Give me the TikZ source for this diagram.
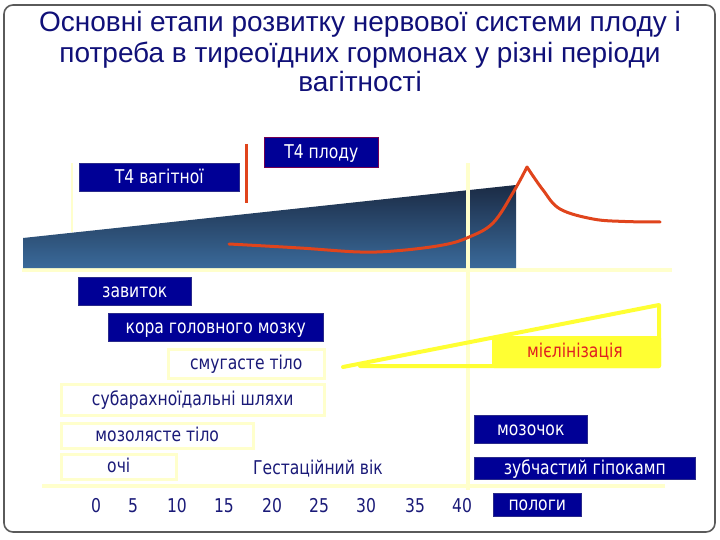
\documentclass[tikz,border=0pt]{standalone}
\usepackage{fontspec}
\setmainfont{Liberation Sans}
\newfontfamily\lblfont[FakeStretch=0.82]{DejaVu Sans}
\definecolor{navybox}{HTML}{000096}
\definecolor{navyedge}{HTML}{2A2A8A}
\definecolor{titlenavy}{HTML}{101078}
\definecolor{lblnavy}{HTML}{1A1A78}
\definecolor{paleyel}{HTML}{FFFFCC}
\definecolor{myel}{HTML}{FFFF33}
\definecolor{myeltext}{HTML}{E02020}
\definecolor{curvered}{HTML}{E0441C}
\definecolor{gradtop}{HTML}{1B2B45}
\definecolor{gradbot}{HTML}{3A6A9A}
\definecolor{framegray}{HTML}{5A5A5A}
\begin{document}
\begin{tikzpicture}[x=1pt,y=-1pt,
  lbl/.style={font=\lblfont\fontsize{19}{22}\selectfont},
  navylbl/.style={lbl, rectangle, anchor=north west, fill=navybox, draw=navyedge, line width=0.6pt, text=white, inner sep=0pt, text height=12pt, text depth=0pt},
  palelbl/.style={lbl, rectangle, anchor=north west, fill=white, draw=paleyel, line width=2.5pt, text=lblnavy, inner sep=0pt, text height=12pt, text depth=0pt},
  ttl/.style={font=\fontsize{28}{30}\selectfont, text=titlenavy, anchor=base, inner sep=0pt},
  num/.style={lbl, text=lblnavy, anchor=base, inner sep=0pt},
  paleline/.style={draw=paleyel, line width=4pt},
  myelline/.style={draw=myel, line width=4pt, line join=round, line cap=round}
]
\useasboundingbox (0,0) rectangle (720,540);
% frame
\draw[framegray, line width=1.6pt, rounded corners=9pt] (4,5) rectangle (715,532);
% title
\node[ttl] (title1) at (360,32) {Основні етапи розвитку нервової системи плоду і};
\node[ttl] (title2) at (360,63) {потреба в тиреоїдних гормонах у різні періоди};
\node[ttl] (title3) at (360,92) {вагітності};
% pale axis lines
\draw[paleline, line width=2pt] (72,163) -- (72,232);
\draw[paleline] (22,270) -- (672,270);
\draw[paleline] (42,486) -- (665,486);
% gradient trapezoid
\shade[top color=gradtop, bottom color=gradbot] (23,268) -- (23,238) -- (516,185) -- (516,268) -- cycle;
\draw[paleline] (468,163) -- (468,490);
% red markers
\draw[curvered, line width=3pt] (246,144) -- (246,203);
\draw[curvered, line width=3pt, line cap=round] plot[smooth, tension=0.6] coordinates {(229,244) (300,248) (360,252) (400,250.5) (443,245) (468,237.5) (493,223) (514,191) (527,167)};
\draw[curvered, line width=3pt, line cap=round] plot[smooth, tension=0.6] coordinates {(527,167) (543,190) (560,209) (593,219) (625,221.5) (660,222)};
% boxes
\node[navylbl, draw=red!45!navybox, minimum width=114pt, minimum height=30pt] (t4fetus) at (264,137.5) {T4 плоду};
\node[navylbl, minimum width=160pt, minimum height=28pt] (t4mother) at (79,163) {T4 вагітної};
\node[navylbl, minimum width=113pt, minimum height=28pt] (zavytok) at (78,277) {завиток};
\node[navylbl, minimum width=215pt, minimum height=28pt] (kora) at (108,313) {кора головного мозку};
\node[palelbl, minimum width=156pt, minimum height=29pt] (smuh) at (167,348) {смугасте тіло};
\node[palelbl, minimum width=263pt, minimum height=31pt] (subar) at (60,383) {субарахноїдальні шляхи};
\node[palelbl, minimum width=192pt, minimum height=25pt] (mozol) at (60,422) {мозолясте тіло};
\node[palelbl, minimum width=115pt, minimum height=25pt] (ochi) at (60,453) {очі};
\node[navylbl, minimum width=113pt, minimum height=28pt] (mozoch) at (474,415) {мозочок};
\node[navylbl, minimum width=221pt, minimum height=22pt] (zub) at (474,457) {зубчастий гіпокамп};
\node[navylbl, minimum width=88pt, minimum height=23pt] (polohy) at (493,493) {пологи};
% myelination
\fill[myel, rounded corners=2pt] (492,336) rectangle (661,368);
\draw[myelline] (343,367) -- (659,305) -- (659,366) -- (360,366);
\node[lbl, text=myeltext, anchor=base, inner sep=0pt] (myelin) at (575,357) {мієлінізація};
% axis labels
\node[num] (gest) at (318,474) {Гестаційний вік};
\node[num] (n0) at (96,512) {0};
\node[num] (n5) at (133,512) {5};
\node[num] (n10) at (177,512) {10};
\node[num] (n15) at (224,512) {15};
\node[num] (n20) at (272,512) {20};
\node[num] (n25) at (319,512) {25};
\node[num] (n30) at (366,512) {30};
\node[num] (n35) at (415,512) {35};
\node[num] (n40) at (462,512) {40};
\end{tikzpicture}
\end{document}
